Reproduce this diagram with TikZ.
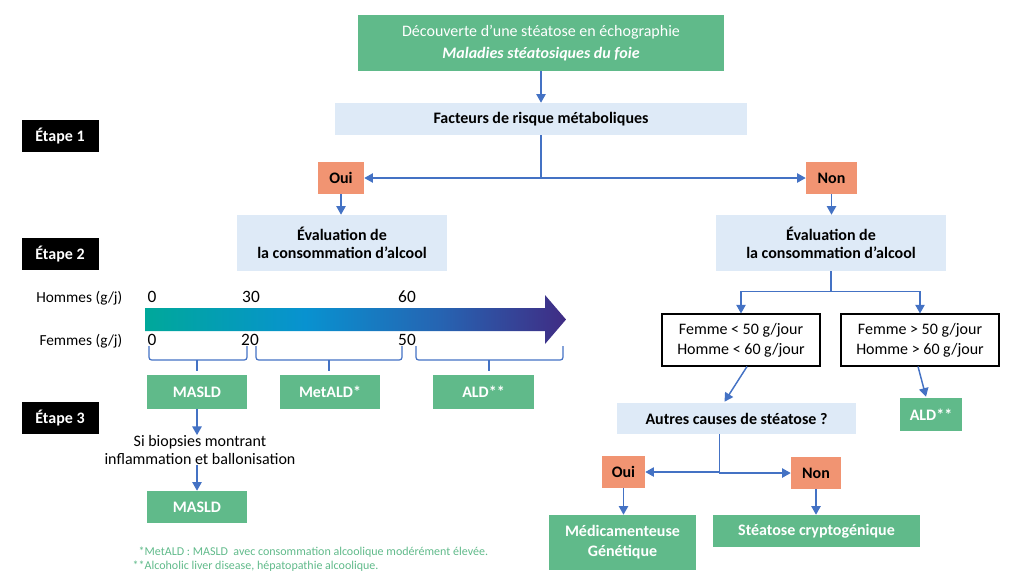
\documentclass[tikz,border=0pt]{standalone}
\usepackage{fontspec}
\setmainfont{Carlito}
\usetikzlibrary{calc,positioning}
\usetikzlibrary{arrows.meta}
\definecolor{boxgreen}{RGB}{96,186,138}
\definecolor{boxblue}{RGB}{222,234,247}
\definecolor{boxorange}{RGB}{241,148,114}
\definecolor{linkblue}{RGB}{68,114,196}
\definecolor{gradA}{RGB}{0,168,154}
\definecolor{gradB}{RGB}{8,146,208}
\definecolor{gradD}{RGB}{38,100,178}
\definecolor{gradC}{RGB}{64,44,132}
\pgfdeclarehorizontalshading{alcool}{100bp}{color(0bp)=(gradA); color(25bp)=(gradA); color(44bp)=(gradB); color(60bp)=(gradD); color(75bp)=(gradC); color(100bp)=(gradC)}

\begin{document}
\begin{tikzpicture}[x=0.75pt,y=-0.75pt,
					font=\fontsize{12}{14}\selectfont,
					>={Triangle[length=6.5pt,width=7pt]},
					box/.style={rectangle, inner sep=0pt, align=center},
					sz/.style 2 args={minimum width=#1*0.75pt, minimum height=#2*0.75pt},
					verdict/.style={box, fill=boxgreen, text=white, font=\fontsize{12}{15}\selectfont\bfseries},
					pale/.style={box, fill=boxblue, font=\fontsize{12}{13.5}\selectfont\bfseries},
					yesno/.style={box, fill=boxorange, font=\fontsize{12}{14}\selectfont\bfseries},
					etape/.style={box, fill=black, text=white, font=\fontsize{12}{14}\selectfont\bfseries, sz={77}{32}},
					seuil/.style={box, draw=black, line width=0.8pt, fill=white, font=\fontsize{12}{15}\selectfont},
					link/.style={->, draw=linkblue, line width=1.1pt},
					brace/.style={draw=linkblue, line width=0.9pt, rounded corners=2pt},
				]
				\useasboundingbox (0,0) rectangle (1024,587);

				% Etapes
				\node[etape] (etape1) at (60,136) {Étape 1};
				\node[etape] (etape2) at (60,254) {Étape 2};
				\node[etape] (etape3) at (60,418) {Étape 3};

				% Haut
				\node[verdict, sz={366}{56}, font=\fontsize{12}{16}\selectfont] (decouverte) at (541,43) {Découverte d’une stéatose en échographie\\\textbf{\textit{Maladies stéatosiques du foie}}};
				\node[pale, sz={412}{32}] (facteurs) at (541,119) {Facteurs de risque métaboliques};
				\node[yesno, sz={46}{32}] (oui1) at (341,178) {Oui};
				\node[yesno, sz={51}{32}] (non1) at (831.5,178) {Non};
				\node[pale, sz={210}{56}] (evalG) at (342,243) {Évaluation de\\la consommation d’alcool};
				\node[pale, sz={230}{56}] (evalD) at (831,243) {Évaluation de\\la consommation d’alcool};

				\draw[link] (decouverte) -- (facteurs);
				\draw[link] (facteurs.south) |- (oui1);
				\draw[link] (facteurs.south) |- (non1);
				\draw[link] (oui1.south) -- (oui1.south |- evalG.north);
				\draw[link] (non1.south) -- (non1.south |- evalD.north);

				% Echelle de consommation
				\shade[shading=alcool]
					(145,308) -- (545,308) -- (545,295) -- (566,319.5) -- (545,344) -- (545,331) -- (145,331) -- cycle;
				\node[anchor=east, font=\fontsize{11.5}{14}\selectfont] (hommes) at (127,298) {Hommes (g/j)};
				\node[anchor=east, font=\fontsize{11.5}{14}\selectfont] (femmes) at (127,341) {Femmes (g/j)};
				\node[font=\fontsize{13}{15}\selectfont] (h0) at (152,297) {0};
				\node[font=\fontsize{13}{15}\selectfont] (h30) at (251,297) {30};
				\node[font=\fontsize{13}{15}\selectfont] (h60) at (407,297) {60};
				\node[font=\fontsize{13}{15}\selectfont] (f0) at (152,340) {0};
				\node[font=\fontsize{13}{15}\selectfont] (f20) at (250,340) {20};
				\node[font=\fontsize{13}{15}\selectfont] (f50) at (407,340) {50};

				\foreach \a/\b/\m in {149/247/197, 256/402/329, 416/563/489}{
					\draw[brace] (\a,346) |- (\m,360) -| (\b,346);
					\draw[brace] (\m,360) -- (\m,371);
				}

				\node[verdict, sz={100}{34}] (masld) at (197,392) {MASLD};
				\node[verdict, sz={100}{34}] (metald) at (330,392) {MetALD*};
				\node[verdict, sz={101}{34}] (ald) at (483.5,392) {ALD**};

				\node[box, font=\fontsize{12}{13.5}\selectfont] (biopsie) at (200,450) {Si biopsies montrant\\inflammation et ballonisation};
				\node[verdict, sz={100}{32}] (masldbis) at (197,507) {MASLD};
				\draw[link] (masld.south) -- (masld.south |- biopsie.north);
				\draw[link] (masld.south |- biopsie.south) -- (masldbis.north);

				% Notes
				\node[anchor=west, align=left, text=boxgreen, font=\fontsize{9}{10.5}\selectfont] (notes) at (128,559) {\hspace{4.5pt}*MetALD : MASLD\ \ avec consommation alcoolique modérément élevée.\\**Alcoholic liver disease, hépatopathie alcoolique.};

				% Cote droit
				\node[seuil, sz={158}{52}] (moins) at (741,340) {Femme < 50 g/jour\\Homme < 60 g/jour};
				\node[seuil, sz={158}{52}] (plus) at (920,340) {Femme > 50 g/jour\\Homme > 60 g/jour};
				\draw[link] (evalD.south) -- ++(0,20) -| (moins.north);
				\draw[link] (evalD.south) -- ++(0,20) -| (plus.north);

				\node[pale, sz={239}{31}] (autres) at (736.5,418.5) {Autres causes de stéatose ?};
				\node[verdict, sz={62}{33}] (aldbis) at (931,414.5) {ALD**};
				\draw[link] ($(moins.south)+(6,0)$) -- ($(autres.north)+(-12,-1)$);
				\draw[link] ($(plus.south)+(-2,0)$) -- ($(aldbis.north)+(-5,-1)$);

				\node[yesno, sz={43}{32}] (oui2) at (623.5,472) {Oui};
				\node[yesno, sz={50}{32}] (non2) at (816,473) {Non};
				\draw[link] ($(autres.south)+(-17,0)$) |- (oui2);
				\draw[link] ($(autres.south)+(-17,0)$) |- (non2);

				\node[verdict, sz={147}{55}] (medic) at (622.5,542.5) {Médicamenteuse\\Génétique};
				\node[verdict, sz={207}{32}] (crypto) at (816.5,531) {Stéatose cryptogénique};
				\draw[link] (oui2.south) -- (oui2.south |- medic.north);
				\draw[link] (non2.south) -- (non2.south |- crypto.north);

			\end{tikzpicture}
\end{document}
